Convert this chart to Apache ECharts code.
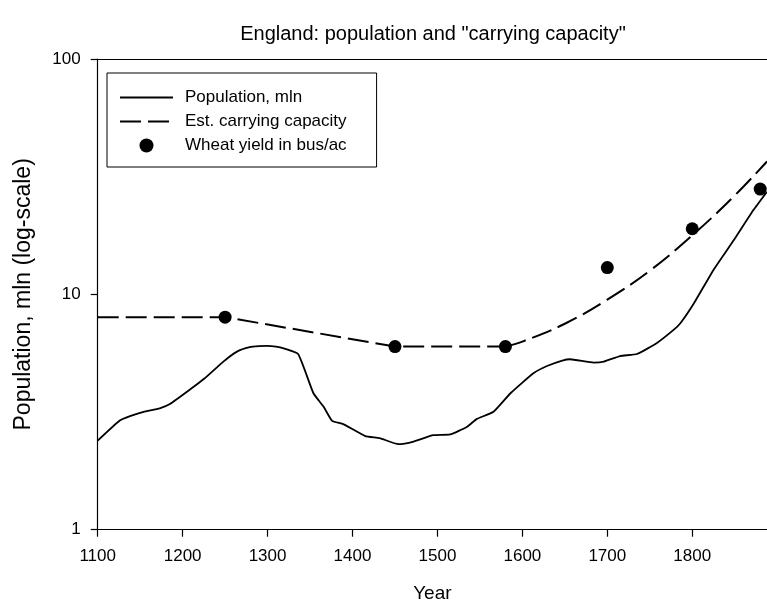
<!DOCTYPE html>
<html>
<head>
<meta charset="utf-8">
<script src="https://cdn.jsdelivr.net/npm/echarts@6/dist/echarts.min.js"></script>
<style>
  html, body { margin: 0; padding: 0; background: #ffffff; }
  #chart { width: 767px; height: 609px; }
</style>
</head>
<body>
<div id="chart"></div>
<script>
// Year ticks on the horizontal axis
const yearTicks = [1100, 1200, 1300, 1400, 1500, 1600, 1700, 1800];

// Population of England, millions
const popYears = [1100, 1126, 1138, 1154, 1173, 1185, 1209, 1226, 1248, 1264, 1279, 1290, 1299, 1310, 1319, 1336,
                  1354, 1366, 1376, 1389, 1415, 1432, 1454, 1472, 1495, 1515, 1535, 1546, 1566, 1586,
                  1613, 1629, 1647, 1656, 1684, 1696, 1715, 1735, 1758, 1778, 1786, 1802, 1825, 1849, 1872, 1888];
const popValues = [2.39, 2.91, 3.04, 3.17, 3.28, 3.42, 3.95, 4.40, 5.18, 5.71, 5.96, 6.02, 6.04, 6.00, 5.90, 5.58,
                   3.80, 3.33, 2.90, 2.81, 2.50, 2.45, 2.31, 2.37, 2.52, 2.54, 2.74, 2.95, 3.17, 3.80,
                   4.62, 4.96, 5.23, 5.30, 5.13, 5.18, 5.47, 5.58, 6.20, 7.06, 7.54, 9.17, 12.7, 17.0, 22.8, 27.3];

// Estimated carrying capacity, millions (flat/linear medieval part and the later rising curve)
const capEarlyYears = [1100, 1250, 1450, 1580];
const capEarlyValues = [8, 8, 6, 6];
const capLateYears = [1580, 1600, 1650, 1700, 1750, 1800, 1850, 1888];
const capLateValues = [6, 6.3, 7.5, 9.5, 12.6, 17.8, 26.3, 36.7];

// Wheat yield, bushels per acre
const wheatYears = [1250, 1450, 1580, 1700, 1800, 1880];
const wheatYield = [8, 6, 6, 13, 19, 28];

const xMin = 1100, xMax = 1888;
const font = 'Liberation Sans, Arial, sans-serif';

const zip = (xs, ys) => xs.map((x, i) => [x, ys[i]]);

const chart = echarts.init(document.getElementById('chart'), null, { renderer: 'canvas' });

const capStyle = { color: '#000', width: 2, type: [21, 7] };

chart.setOption({
  backgroundColor: '#ffffff',
  animation: false,
  title: {
    text: 'England: population and "carrying capacity"',
    left: 428,
    top: 19,
    textAlign: 'center',
    textStyle: { fontFamily: font, fontSize: 20, fontWeight: 'normal', color: '#000' }
  },
  legend: {
    orient: 'vertical',
    left: 107,
    top: 73,
    width: 269,
    padding: [16, 30, 13, 12],
    itemGap: 7,
    itemWidth: 53,
    itemHeight: 14,
    borderColor: '#000',
    borderWidth: 1,
    textStyle: { fontFamily: font, fontSize: 17, color: '#000', padding: [0, 0, 0, 7] },
    data: [
      { name: 'Population, mln', itemStyle: { opacity: 0 } },
      { name: 'Est. carrying capacity', itemStyle: { opacity: 0 } },
      { name: 'Wheat yield in bus/ac', itemStyle: { opacity: 1 } }
    ]
  },
  grid: { left: 97.7, right: 0, top: 59, bottom: 79.3, containLabel: false },
  xAxis: [{
    type: 'value',
    min: xMin,
    max: xMax,
    interval: 100,
    name: 'Year',
    nameLocation: 'middle',
    nameGap: 55,
    nameTextStyle: { fontFamily: font, fontSize: 19, color: '#000' },
    axisLine: { show: true, onZero: false, lineStyle: { color: '#000', width: 1.2 } },
    axisTick: { show: true, length: 7, customValues: yearTicks, lineStyle: { color: '#000', width: 1.2 } },
    axisLabel: {
      customValues: yearTicks,
      margin: 18,
      formatter: v => String(v),
      fontFamily: font, fontSize: 17, color: '#000'
    },
    splitLine: { show: false }
  }, {
    type: 'value',
    position: 'top',
    min: xMin,
    max: xMax,
    axisLine: { show: true, onZero: false, lineStyle: { color: '#000', width: 1.2 } },
    axisTick: { show: false },
    axisLabel: { show: false },
    splitLine: { show: false }
  }],
  yAxis: {
    type: 'log',
    logBase: 10,
    min: 1,
    max: 100,
    name: 'Population, mln (log-scale)',
    nameLocation: 'middle',
    nameRotate: 90,
    nameGap: 63,
    nameTextStyle: { fontFamily: font, fontSize: 23, color: '#000' },
    axisLine: { show: true, lineStyle: { color: '#000', width: 1.2 } },
    axisTick: { show: true, length: 7, lineStyle: { color: '#000', width: 1.2 } },
    axisLabel: { margin: 17, fontFamily: font, fontSize: 17, color: '#000' },
    minorTick: { show: false },
    splitLine: { show: false }
  },
  series: [
    {
      name: 'Population, mln',
      type: 'line',
      data: zip(popYears, popValues),
      showSymbol: false,
      symbol: 'none',
      smooth: 0.15,
      lineStyle: { color: '#000', width: 1.8 },
      itemStyle: { color: '#000' },
      z: 3
    },
    {
      name: 'Est. carrying capacity',
      type: 'line',
      data: zip(capEarlyYears, capEarlyValues),
      showSymbol: false,
      symbol: 'none',
      lineStyle: capStyle,
      itemStyle: { color: '#000' },
      z: 2
    },
    {
      name: 'Est. carrying capacity',
      type: 'line',
      data: zip(capLateYears, capLateValues),
      showSymbol: false,
      symbol: 'none',
      smooth: 0.4,
      lineStyle: capStyle,
      itemStyle: { color: '#000' },
      z: 2
    },
    {
      name: 'Wheat yield in bus/ac',
      type: 'scatter',
      data: zip(wheatYears, wheatYield),
      symbol: 'circle',
      symbolSize: 13,
      itemStyle: { color: '#000', opacity: 1 },
      z: 4
    }
  ]
});
</script>
</body>
</html>
